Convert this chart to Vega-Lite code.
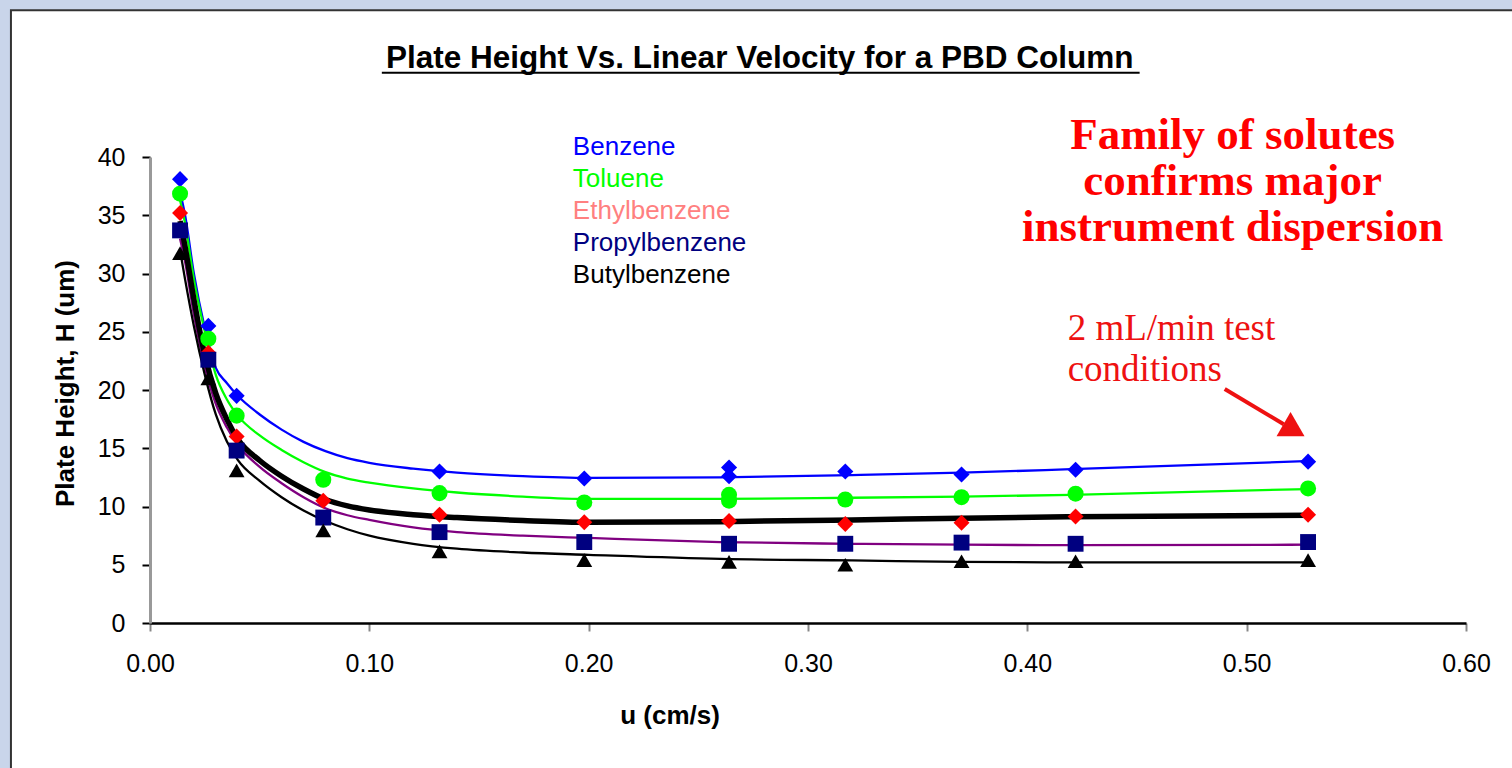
{
  "$schema": "https://vega.github.io/schema/vega-lite/v6.json",
  "width": 1316,
  "height": 466,
  "autosize": {"type": "none"},
  "padding": {"left": 150, "top": 157, "right": 46, "bottom": 145},
  "background": "#c9d5ea",
  "config": {"view": {"stroke": null}, "font": "Liberation Sans"},
  "datasets": {
    "pts": [
      {"s": "Benzene", "u": 0.0137, "H": 38.1},
      {"s": "Benzene", "u": 0.0266, "H": 25.5},
      {"s": "Benzene", "u": 0.0395, "H": 19.5},
      {"s": "Benzene", "u": 0.132, "H": 13.0},
      {"s": "Benzene", "u": 0.198, "H": 12.4},
      {"s": "Benzene", "u": 0.264, "H": 13.35},
      {"s": "Benzene", "u": 0.264, "H": 12.6},
      {"s": "Benzene", "u": 0.317, "H": 13.0},
      {"s": "Benzene", "u": 0.37, "H": 12.75},
      {"s": "Benzene", "u": 0.422, "H": 13.15},
      {"s": "Benzene", "u": 0.528, "H": 13.85},
      {"s": "Toluene", "u": 0.0137, "H": 36.85},
      {"s": "Toluene", "u": 0.0266, "H": 24.4},
      {"s": "Toluene", "u": 0.0395, "H": 17.8},
      {"s": "Toluene", "u": 0.079, "H": 12.3},
      {"s": "Toluene", "u": 0.132, "H": 11.15},
      {"s": "Toluene", "u": 0.198, "H": 10.35},
      {"s": "Toluene", "u": 0.264, "H": 11.0},
      {"s": "Toluene", "u": 0.264, "H": 10.5},
      {"s": "Toluene", "u": 0.317, "H": 10.6},
      {"s": "Toluene", "u": 0.37, "H": 10.8},
      {"s": "Toluene", "u": 0.422, "H": 11.1},
      {"s": "Toluene", "u": 0.528, "H": 11.55},
      {"s": "Ethylbenzene", "u": 0.0137, "H": 35.2},
      {"s": "Ethylbenzene", "u": 0.0266, "H": 23.2},
      {"s": "Ethylbenzene", "u": 0.0395, "H": 16.0},
      {"s": "Ethylbenzene", "u": 0.079, "H": 10.5},
      {"s": "Ethylbenzene", "u": 0.132, "H": 9.3},
      {"s": "Ethylbenzene", "u": 0.198, "H": 8.65},
      {"s": "Ethylbenzene", "u": 0.264, "H": 8.75},
      {"s": "Ethylbenzene", "u": 0.317, "H": 8.5},
      {"s": "Ethylbenzene", "u": 0.37, "H": 8.6},
      {"s": "Ethylbenzene", "u": 0.422, "H": 9.15},
      {"s": "Ethylbenzene", "u": 0.528, "H": 9.3},
      {"s": "Propylbenzene", "u": 0.0137, "H": 33.7},
      {"s": "Propylbenzene", "u": 0.0266, "H": 22.6},
      {"s": "Propylbenzene", "u": 0.0395, "H": 14.8},
      {"s": "Propylbenzene", "u": 0.079, "H": 9.05},
      {"s": "Propylbenzene", "u": 0.132, "H": 7.8},
      {"s": "Propylbenzene", "u": 0.198, "H": 6.95},
      {"s": "Propylbenzene", "u": 0.264, "H": 6.8},
      {"s": "Propylbenzene", "u": 0.317, "H": 6.8},
      {"s": "Propylbenzene", "u": 0.37, "H": 6.9},
      {"s": "Propylbenzene", "u": 0.422, "H": 6.8},
      {"s": "Propylbenzene", "u": 0.528, "H": 6.95},
      {"s": "Butylbenzene", "u": 0.0137, "H": 31.75},
      {"s": "Butylbenzene", "u": 0.0266, "H": 21.0},
      {"s": "Butylbenzene", "u": 0.0395, "H": 13.1},
      {"s": "Butylbenzene", "u": 0.079, "H": 7.95},
      {"s": "Butylbenzene", "u": 0.132, "H": 6.15},
      {"s": "Butylbenzene", "u": 0.198, "H": 5.4},
      {"s": "Butylbenzene", "u": 0.264, "H": 5.25},
      {"s": "Butylbenzene", "u": 0.317, "H": 5.0},
      {"s": "Butylbenzene", "u": 0.37, "H": 5.3},
      {"s": "Butylbenzene", "u": 0.422, "H": 5.3},
      {"s": "Butylbenzene", "u": 0.528, "H": 5.4}
    ],
    "fit": [
      {"s": "Benzene", "u": 0.0137, "H": 37.0},
      {"s": "Benzene", "u": 0.016, "H": 35.0},
      {"s": "Benzene", "u": 0.02, "H": 30.0},
      {"s": "Benzene", "u": 0.025, "H": 25.3},
      {"s": "Benzene", "u": 0.03, "H": 21.9},
      {"s": "Benzene", "u": 0.035, "H": 20.6},
      {"s": "Benzene", "u": 0.04, "H": 19.5},
      {"s": "Benzene", "u": 0.05, "H": 17.9},
      {"s": "Benzene", "u": 0.06, "H": 16.6},
      {"s": "Benzene", "u": 0.07, "H": 15.55},
      {"s": "Benzene", "u": 0.08, "H": 14.75},
      {"s": "Benzene", "u": 0.09, "H": 14.15},
      {"s": "Benzene", "u": 0.1, "H": 13.75},
      {"s": "Benzene", "u": 0.12, "H": 13.25},
      {"s": "Benzene", "u": 0.14, "H": 12.9},
      {"s": "Benzene", "u": 0.17, "H": 12.6},
      {"s": "Benzene", "u": 0.2, "H": 12.45},
      {"s": "Benzene", "u": 0.26, "H": 12.5},
      {"s": "Benzene", "u": 0.32, "H": 12.7},
      {"s": "Benzene", "u": 0.37, "H": 12.9},
      {"s": "Benzene", "u": 0.42, "H": 13.2},
      {"s": "Benzene", "u": 0.528, "H": 13.9},
      {"s": "Toluene", "u": 0.0137, "H": 36.3},
      {"s": "Toluene", "u": 0.016, "H": 34.3},
      {"s": "Toluene", "u": 0.02, "H": 29.5},
      {"s": "Toluene", "u": 0.025, "H": 25.0},
      {"s": "Toluene", "u": 0.03, "H": 21.3},
      {"s": "Toluene", "u": 0.035, "H": 19.2},
      {"s": "Toluene", "u": 0.04, "H": 17.8},
      {"s": "Toluene", "u": 0.05, "H": 16.1},
      {"s": "Toluene", "u": 0.06, "H": 14.85},
      {"s": "Toluene", "u": 0.07, "H": 13.8},
      {"s": "Toluene", "u": 0.08, "H": 12.95},
      {"s": "Toluene", "u": 0.09, "H": 12.4},
      {"s": "Toluene", "u": 0.1, "H": 12.05},
      {"s": "Toluene", "u": 0.12, "H": 11.55},
      {"s": "Toluene", "u": 0.14, "H": 11.2},
      {"s": "Toluene", "u": 0.17, "H": 10.85},
      {"s": "Toluene", "u": 0.2, "H": 10.65},
      {"s": "Toluene", "u": 0.26, "H": 10.65},
      {"s": "Toluene", "u": 0.32, "H": 10.75},
      {"s": "Toluene", "u": 0.37, "H": 10.85},
      {"s": "Toluene", "u": 0.42, "H": 11.0},
      {"s": "Toluene", "u": 0.528, "H": 11.5},
      {"s": "Ethylbenzene", "u": 0.0137, "H": 34.5},
      {"s": "Ethylbenzene", "u": 0.016, "H": 32.3},
      {"s": "Ethylbenzene", "u": 0.02, "H": 27.8},
      {"s": "Ethylbenzene", "u": 0.025, "H": 23.0},
      {"s": "Ethylbenzene", "u": 0.03, "H": 19.7},
      {"s": "Ethylbenzene", "u": 0.035, "H": 17.5},
      {"s": "Ethylbenzene", "u": 0.04, "H": 15.8},
      {"s": "Ethylbenzene", "u": 0.05, "H": 13.95},
      {"s": "Ethylbenzene", "u": 0.06, "H": 12.6},
      {"s": "Ethylbenzene", "u": 0.07, "H": 11.5},
      {"s": "Ethylbenzene", "u": 0.08, "H": 10.6},
      {"s": "Ethylbenzene", "u": 0.09, "H": 10.05},
      {"s": "Ethylbenzene", "u": 0.1, "H": 9.7},
      {"s": "Ethylbenzene", "u": 0.12, "H": 9.3},
      {"s": "Ethylbenzene", "u": 0.14, "H": 9.05},
      {"s": "Ethylbenzene", "u": 0.17, "H": 8.8},
      {"s": "Ethylbenzene", "u": 0.2, "H": 8.65},
      {"s": "Ethylbenzene", "u": 0.26, "H": 8.7},
      {"s": "Ethylbenzene", "u": 0.32, "H": 8.85},
      {"s": "Ethylbenzene", "u": 0.37, "H": 9.0},
      {"s": "Ethylbenzene", "u": 0.42, "H": 9.12},
      {"s": "Ethylbenzene", "u": 0.528, "H": 9.25},
      {"s": "Propylbenzene", "u": 0.0137, "H": 33.0},
      {"s": "Propylbenzene", "u": 0.016, "H": 31.0},
      {"s": "Propylbenzene", "u": 0.02, "H": 26.5},
      {"s": "Propylbenzene", "u": 0.025, "H": 22.0},
      {"s": "Propylbenzene", "u": 0.03, "H": 18.8},
      {"s": "Propylbenzene", "u": 0.035, "H": 16.8},
      {"s": "Propylbenzene", "u": 0.04, "H": 15.3},
      {"s": "Propylbenzene", "u": 0.05, "H": 13.4},
      {"s": "Propylbenzene", "u": 0.06, "H": 12.0},
      {"s": "Propylbenzene", "u": 0.07, "H": 10.8},
      {"s": "Propylbenzene", "u": 0.08, "H": 9.85},
      {"s": "Propylbenzene", "u": 0.09, "H": 9.25},
      {"s": "Propylbenzene", "u": 0.1, "H": 8.85},
      {"s": "Propylbenzene", "u": 0.12, "H": 8.2},
      {"s": "Propylbenzene", "u": 0.14, "H": 7.8},
      {"s": "Propylbenzene", "u": 0.17, "H": 7.5},
      {"s": "Propylbenzene", "u": 0.2, "H": 7.3},
      {"s": "Propylbenzene", "u": 0.26, "H": 6.95},
      {"s": "Propylbenzene", "u": 0.32, "H": 6.8},
      {"s": "Propylbenzene", "u": 0.37, "H": 6.72},
      {"s": "Propylbenzene", "u": 0.42, "H": 6.68},
      {"s": "Propylbenzene", "u": 0.528, "H": 6.72},
      {"s": "Butylbenzene", "u": 0.0137, "H": 32.0},
      {"s": "Butylbenzene", "u": 0.016, "H": 29.5},
      {"s": "Butylbenzene", "u": 0.02, "H": 25.5},
      {"s": "Butylbenzene", "u": 0.025, "H": 21.3},
      {"s": "Butylbenzene", "u": 0.03, "H": 17.9},
      {"s": "Butylbenzene", "u": 0.035, "H": 15.6},
      {"s": "Butylbenzene", "u": 0.04, "H": 14.0},
      {"s": "Butylbenzene", "u": 0.05, "H": 12.2},
      {"s": "Butylbenzene", "u": 0.06, "H": 10.8},
      {"s": "Butylbenzene", "u": 0.07, "H": 9.65},
      {"s": "Butylbenzene", "u": 0.08, "H": 8.75},
      {"s": "Butylbenzene", "u": 0.09, "H": 8.05},
      {"s": "Butylbenzene", "u": 0.1, "H": 7.5},
      {"s": "Butylbenzene", "u": 0.12, "H": 6.8},
      {"s": "Butylbenzene", "u": 0.14, "H": 6.38},
      {"s": "Butylbenzene", "u": 0.17, "H": 6.05},
      {"s": "Butylbenzene", "u": 0.2, "H": 5.85},
      {"s": "Butylbenzene", "u": 0.26, "H": 5.5},
      {"s": "Butylbenzene", "u": 0.32, "H": 5.37},
      {"s": "Butylbenzene", "u": 0.37, "H": 5.25},
      {"s": "Butylbenzene", "u": 0.42, "H": 5.2},
      {"s": "Butylbenzene", "u": 0.528, "H": 5.2}
    ],
    "legend": [
      {"s": "Benzene", "u": 0.1928, "H": 40.88},
      {"s": "Toluene", "u": 0.1928, "H": 38.13},
      {"s": "Ethylbenzene", "u": 0.1928, "H": 35.39},
      {"s": "Propylbenzene", "u": 0.1928, "H": 32.64},
      {"s": "Butylbenzene", "u": 0.1928, "H": 29.9}
    ]
  },
  "layer": [
    {
      "data": {"values": [{"xa": -0.0634, "xb": 0.8, "ya": -20, "yb": 52.6}]},
      "mark": {"type": "rect", "fill": "#ffffff", "stroke": "#333333", "strokeWidth": 2, "clip": false},
      "encoding": {
        "x": {"field": "xa", "type": "quantitative", "scale": {"domain": [0, 0.6], "nice": false},
          "axis": {
            "values": [0, 0.1, 0.2, 0.3, 0.4, 0.5, 0.6],
            "format": ".2f",
            "grid": false,
            "zindex": 1,
            "labelFont": "Liberation Sans",
            "labelFontSize": 25,
            "labelColor": "#000000",
            "labelPadding": 20,
            "labelFlush": false,
            "labelOverlap": false,
            "tickSize": 8,
            "tickColor": "#888888",
            "tickWidth": 2,
            "domainColor": "#000000",
            "domainWidth": 2.5,
            "title": "u (cm/s)",
            "titleFont": "Liberation Sans",
            "titleFontSize": 26,
            "titleFontWeight": "bold",
            "titleColor": "#000000",
            "titleX": 519.5,
            "titleY": 92,
            "titleAlign": "center",
            "titleBaseline": "middle"
          }},
        "x2": {"field": "xb"},
        "y": {"field": "ya", "type": "quantitative", "scale": {"domain": [0, 40], "nice": false},
          "axis": {
            "values": [0, 5, 10, 15, 20, 25, 30, 35, 40],
            "grid": false,
            "zindex": 1,
            "labelFont": "Liberation Sans",
            "labelFontSize": 25,
            "labelColor": "#000000",
            "labelPadding": 17,
            "labelFlush": false,
            "labelOverlap": false,
            "tickSize": 8,
            "tickColor": "#000000",
            "tickWidth": 2,
            "domainColor": "#999999",
            "domainWidth": 3,
            "title": "Plate Height,  H (um)",
            "titleFont": "Liberation Sans",
            "titleFontSize": 26,
            "titleFontWeight": "bold",
            "titleColor": "#000000",
            "titleAngle": -90,
            "titleX": -85,
            "titleY": 226,
            "titleAlign": "center",
            "titleBaseline": "middle"
          }},
        "y2": {"field": "yb"}
      }
    },
    {
      "data": {"name": "fit"},
      "transform": [{"filter": "datum.s !== 'Ethylbenzene'"}],
      "mark": {"type": "line", "interpolate": "monotone", "strokeWidth": 2.3},
      "encoding": {
        "x": {"field": "u", "type": "quantitative", "scale": {"domain": [0, 0.6], "nice": false}},
        "y": {"field": "H", "type": "quantitative", "scale": {"domain": [0, 40], "nice": false}},
        "detail": {"field": "s"},
        "stroke": {"field": "s", "type": "nominal",
          "scale": {"domain": ["Benzene", "Toluene", "Ethylbenzene", "Propylbenzene", "Butylbenzene"],
                    "range": ["#0000ff", "#00ff00", "#000000", "#800080", "#000000"]},
          "legend": null}
      }
    },
    {
      "data": {"name": "fit"},
      "transform": [{"filter": "datum.s === 'Ethylbenzene'"}],
      "mark": {"type": "line", "interpolate": "monotone", "strokeWidth": 5.5, "color": "#000000"},
      "encoding": {
        "x": {"field": "u", "type": "quantitative", "scale": {"domain": [0, 0.6], "nice": false}},
        "y": {"field": "H", "type": "quantitative", "scale": {"domain": [0, 40], "nice": false}}
      }
    },
    {
      "data": {"name": "pts"},
      "mark": {"type": "point", "filled": true, "opacity": 1, "strokeWidth": 0},
      "encoding": {
        "x": {"field": "u", "type": "quantitative", "scale": {"domain": [0, 0.6], "nice": false}},
        "y": {"field": "H", "type": "quantitative", "scale": {"domain": [0, 40], "nice": false}},
        "color": {"field": "s", "type": "nominal",
          "scale": {"domain": ["Benzene", "Toluene", "Ethylbenzene", "Propylbenzene", "Butylbenzene"],
                    "range": ["#0000ff", "#00ff00", "#ff0000", "#000080", "#000000"]},
          "legend": null},
        "shape": {"field": "s", "type": "nominal",
          "scale": {"domain": ["Benzene", "Toluene", "Ethylbenzene", "Propylbenzene", "Butylbenzene"],
                    "range": ["diamond", "circle", "diamond", "square", "triangle-up"]},
          "legend": null},
        "size": {"field": "s", "type": "nominal",
          "scale": {"domain": ["Benzene", "Toluene", "Ethylbenzene", "Propylbenzene", "Butylbenzene"],
                    "range": [260, 250, 140, 210, 200]},
          "legend": null}
      }
    },
    {
      "data": {"name": "legend"},
      "mark": {"type": "text", "font": "Liberation Sans", "fontSize": 26, "align": "left", "baseline": "middle", "clip": false},
      "encoding": {
        "x": {"field": "u", "type": "quantitative", "scale": {"domain": [0, 0.6], "nice": false}},
        "y": {"field": "H", "type": "quantitative", "scale": {"domain": [0, 40], "nice": false}},
        "text": {"field": "s"},
        "fill": {"field": "s", "type": "nominal",
          "scale": {"domain": ["Benzene", "Toluene", "Ethylbenzene", "Propylbenzene", "Butylbenzene"],
                    "range": ["#0000ff", "#00ff00", "#ff8080", "#000080", "#000000"]},
          "legend": null}
      }
    },
    {
      "data": {"values": [
        {"t": "Plate Height Vs. Linear Velocity for a PBD Column", "u": 0.278, "H": 47.67}
      ]},
      "mark": {"type": "text", "font": "Liberation Sans", "fontSize": 31.5, "fontWeight": "bold", "color": "#000000", "align": "center", "baseline": "alphabetic", "clip": false},
      "encoding": {
        "x": {"field": "u", "type": "quantitative", "scale": {"domain": [0, 0.6], "nice": false}},
        "y": {"field": "H", "type": "quantitative", "scale": {"domain": [0, 40], "nice": false}},
        "text": {"field": "t"}
      }
    },
    {
      "data": {"values": [
        {"t": "Family of solutes\nconfirms major\ninstrument dispersion", "u": 0.4936, "H": 40.69}
      ]},
      "mark": {"type": "text", "font": "Liberation Serif", "fontSize": 45, "fontWeight": "bold", "color": "#ff0000", "align": "center", "baseline": "alphabetic", "lineBreak": "\n", "lineHeight": 46, "clip": false},
      "encoding": {
        "x": {"field": "u", "type": "quantitative", "scale": {"domain": [0, 0.6], "nice": false}},
        "y": {"field": "H", "type": "quantitative", "scale": {"domain": [0, 40], "nice": false}},
        "text": {"field": "t"}
      }
    },
    {
      "data": {"values": [
        {"t": "2 mL/min test\nconditions", "u": 0.4184, "H": 24.32}
      ]},
      "mark": {"type": "text", "font": "Liberation Serif", "fontSize": 37, "color": "#ee1111", "align": "left", "baseline": "alphabetic", "lineBreak": "\n", "lineHeight": 41.7, "clip": false},
      "encoding": {
        "x": {"field": "u", "type": "quantitative", "scale": {"domain": [0, 0.6], "nice": false}},
        "y": {"field": "H", "type": "quantitative", "scale": {"domain": [0, 40], "nice": false}},
        "text": {"field": "t"}
      }
    },
    {
      "data": {"values": [{"u": 0.49, "H": 20.09, "u2": 0.5169, "H2": 17.06}]},
      "mark": {"type": "rule", "color": "#ee1111", "strokeWidth": 4},
      "encoding": {
        "x": {"field": "u", "type": "quantitative", "scale": {"domain": [0, 0.6], "nice": false}},
        "y": {"field": "H", "type": "quantitative", "scale": {"domain": [0, 40], "nice": false}},
        "x2": {"field": "u2"},
        "y2": {"field": "H2"}
      }
    },
    {
      "data": {"values": [{"u": 0.5216, "H": 16.54}]},
      "mark": {"type": "point", "shape": "triangle-up", "filled": true, "color": "#ee1111", "opacity": 1, "size": 784, "angle": 120, "strokeWidth": 0},
      "encoding": {
        "x": {"field": "u", "type": "quantitative", "scale": {"domain": [0, 0.6], "nice": false}},
        "y": {"field": "H", "type": "quantitative", "scale": {"domain": [0, 40], "nice": false}}
      }
    },
    {
      "data": {"values": [{"u": 0.1057, "H": 47.24, "u2": 0.4512}]},
      "mark": {"type": "rule", "color": "#000000", "strokeWidth": 2, "clip": false},
      "encoding": {
        "x": {"field": "u", "type": "quantitative", "scale": {"domain": [0, 0.6], "nice": false}},
        "y": {"field": "H", "type": "quantitative", "scale": {"domain": [0, 40], "nice": false}},
        "x2": {"field": "u2"}
      }
    }
  ]
}
